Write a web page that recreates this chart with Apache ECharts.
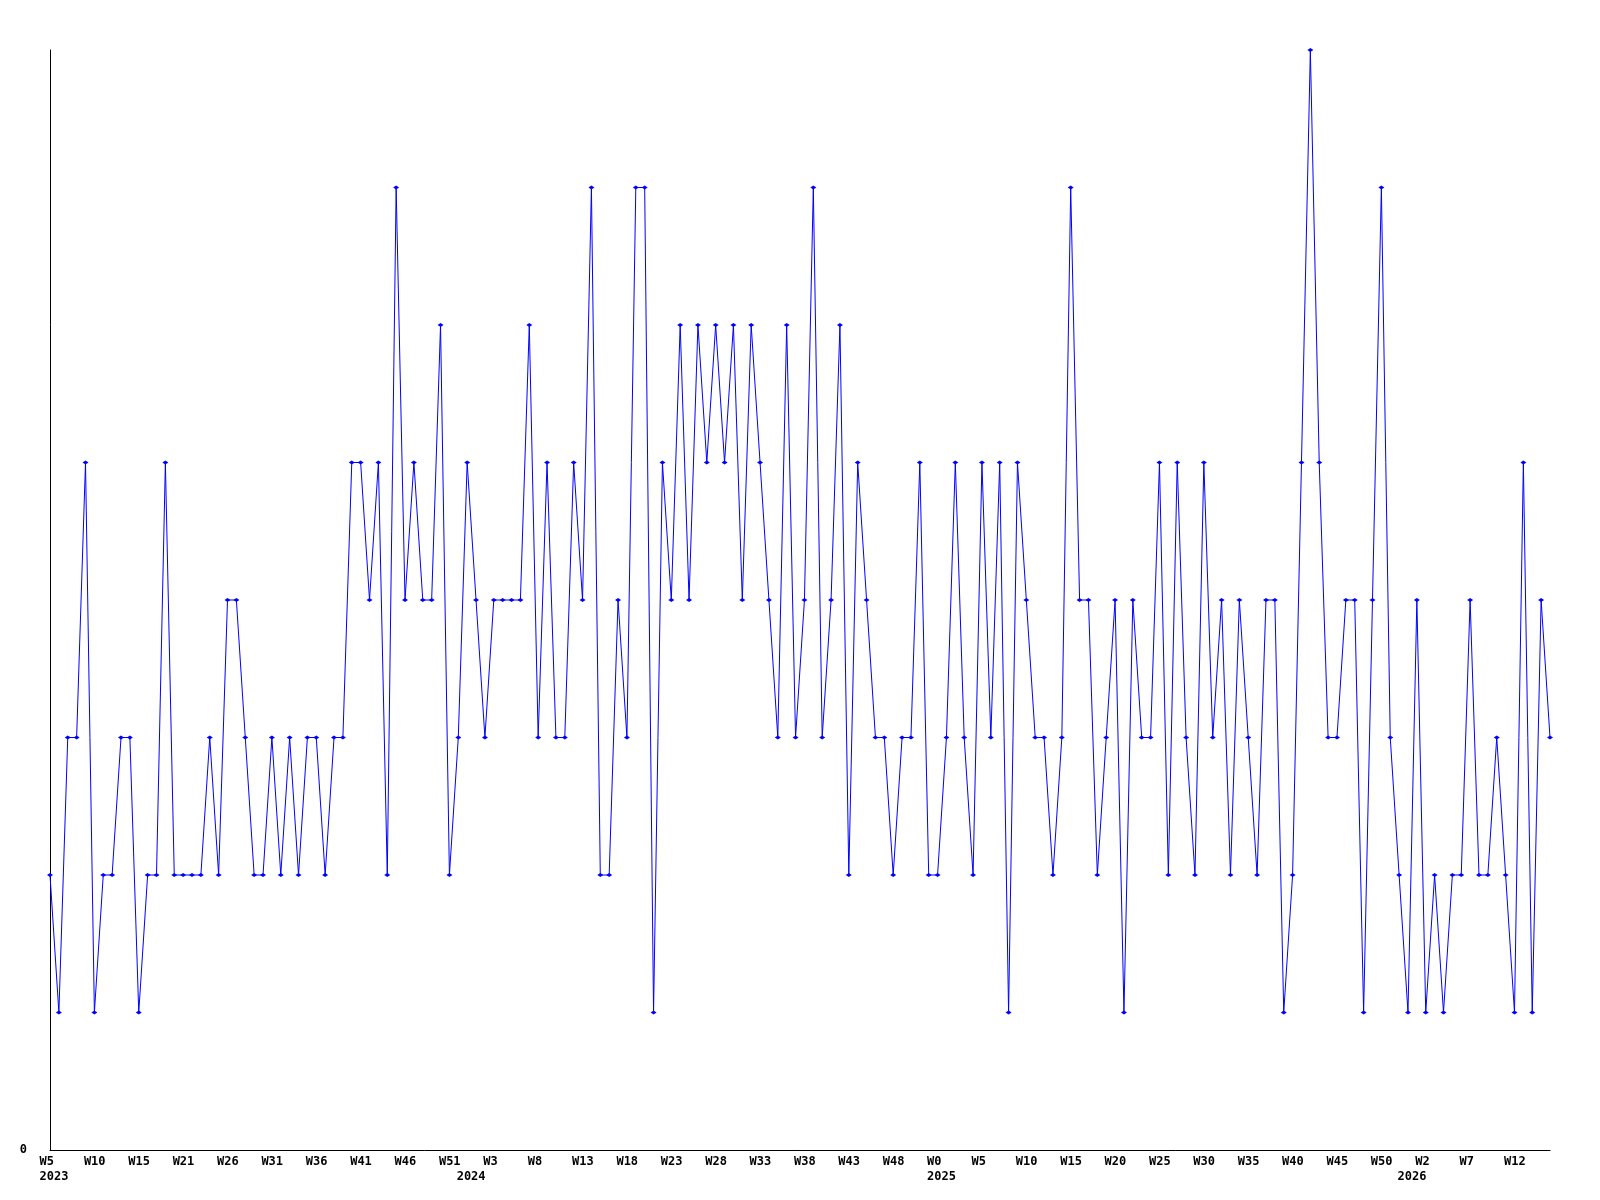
<!DOCTYPE html>
<html>
<head>
<meta charset="utf-8">
<script src="https://cdn.jsdelivr.net/npm/echarts@6/dist/echarts.min.js"></script>
<style>
html,body{margin:0;padding:0;background:#fff;}
#chart{width:1600px;height:1200px;}
</style>
</head>
<body>
<div id="chart"></div>
<script>
// Weekly values, W5 2023 .. W15 2026 (170 weeks)
const values = [
  2,1,3,3,5,1,2,2,3,3,1,2,2,5,2,2,2,2,3,2,4,4,
  3,2,2,3,2,3,2,3,3,2,3,3,5,5,4,5,2,7,4,5,4,4,
  6,2,3,5,4,3,4,4,4,4,6,3,5,3,3,5,4,7,2,2,
  4,3,7,7,1,5,4,6,4,6,5,6,5,6,4,6,5,4,3,6,3,4,
  7,3,4,6,2,5,4,3,3,2,3,3,5,2,2,3,5,3,2,5,3,5,
  1,5,4,3,3,2,3,7,4,4,2,3,4,1,4,3,3,5,2,5,3,
  2,5,3,4,2,4,3,2,4,4,1,2,5,8,5,3,3,4,4,1,4,7,
  3,2,1,4,1,2,1,2,2,4,2,2,3,2,1,5,1,4,3
];
const categories = values.map((_, i) => String(i));

// Week tick labels (every fifth week)
const weekTickIdx = [0,5,10,15,20,25,30,35,40,45,50,55,60,65,70,75,80,85,90,95,100,105,110,115,120,125,130,135,140,145,150,155,160,165];
const weekTickText = ['W5','W10','W15','W21','W26','W31','W36','W41','W46','W51','W3','W8','W13','W18','W23','W28','W33','W38','W43','W48','W0','W5','W10','W15','W20','W25','W30','W35','W40','W45','W50','W2','W7','W12'];

// Year labels
const yearTickIdx = [0,47,100,153];
const yearTickText = ['2023','2024','2025','2026'];

const weekMap = {}; weekTickIdx.forEach((k, j) => weekMap[k] = weekTickText[j]);
const yearMap = {}; yearTickIdx.forEach((k, j) => yearMap[k] = yearTickText[j]);

const FONT = 'DejaVu Sans Mono';
const labelRich = { a: { width: 21, align: 'left', fontFamily: FONT, fontSize: 12, fontWeight: 'bold', color: '#000' } };

const chart = echarts.init(document.getElementById('chart'), null, { renderer: 'canvas' });
chart.setOption({
  animation: false,
  backgroundColor: '#ffffff',
  grid: { left: 50, right: 50, top: 50, bottom: 50, containLabel: false },
  xAxis: [
    {
      type: 'category', data: categories, boundaryGap: false,
      axisLine: { show: true, lineStyle: { color: '#000', width: 1 } },
      axisTick: { show: false },
      splitLine: { show: false },
      axisLabel: {
        interval: (i) => weekMap[i] !== undefined,
        margin: 6,
        formatter: (v, i) => weekMap[i] !== undefined ? '{a|' + weekMap[i] + '}' : '',
        rich: labelRich
      }
    },
    {
      type: 'category', data: categories, boundaryGap: false, position: 'bottom', offset: 15,
      axisLine: { show: false }, axisTick: { show: false }, splitLine: { show: false },
      axisLabel: {
        interval: (i) => yearMap[i] !== undefined,
        margin: 6,
        formatter: (v, i) => yearMap[i] !== undefined ? '{a|' + yearMap[i] + '}' : '',
        rich: labelRich
      }
    }
  ],
  yAxis: {
    type: 'value', min: 0, max: 8, interval: 8,
    axisLine: { show: true, lineStyle: { color: '#000', width: 1 } },
    axisTick: { show: false },
    splitLine: { show: false },
    axisLabel: {
      margin: 23,
      padding: [4, 0, 0, 0],
      fontFamily: FONT, fontSize: 12, fontWeight: 'bold', color: '#000',
      formatter: (v) => v === 0 ? '0' : ''
    }
  },
  series: [{
    type: 'line',
    xAxisIndex: 0,
    data: values,
    lineStyle: { color: '#0000ff', width: 1 },
    itemStyle: { color: '#0000ff' },
    symbol: 'diamond',
    symbolSize: [6, 4],
    showAllSymbol: true,
    smooth: false
  }]
});
</script>
</body>
</html>
